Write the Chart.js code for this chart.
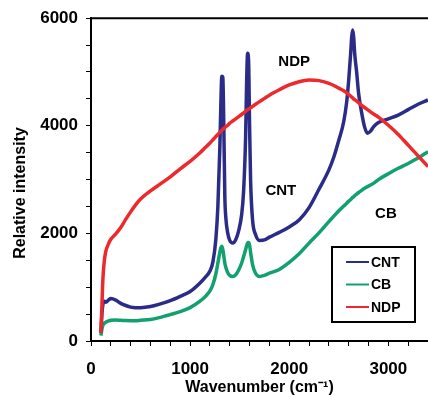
<!DOCTYPE html>
<html>
<head>
<meta charset="utf-8">
<script src="https://cdn.jsdelivr.net/npm/chart.js@4/dist/chart.umd.min.js"></script>
<style>
  html, body { margin: 0; padding: 0; background: #fff; }
  #wrap { width: 428px; height: 397px; }
</style>
</head>
<body>
<div id="wrap"><canvas id="myChart"></canvas></div>
<script>
// wavenumber grid shared by the three spectra (cm-1)
const wavenumber = [100,110,120,135,150,175,200,250,300,350,400,450,500,600,700,800,900,1000,1100,1150,1200,1230,1260,1280,1300,1310,1320,1330,1340,1350,1360,1380,1400,1430,1460,1490,1520,1540,1560,1570,1580,1590,1600,1610,1630,1660,1700,1750,1800,1900,2000,2100,2200,2300,2400,2450,2500,2550,2580,2600,2620,2630,2640,2650,2660,2680,2700,2730,2760,2790,2820,2850,2900,3000,3100,3200,3300,3400];

const cnt = [150,500,680,740,720,760,790,760,700,660,630,620,620,640,690,750,830,920,1080,1180,1300,1470,1900,2500,3600,4400,4920,4900,4000,2700,2300,2000,1870,1820,1880,2050,2350,2800,3800,4800,5350,5200,4000,3000,2250,1980,1870,1880,1930,2020,2120,2250,2480,2820,3180,3420,3730,4080,4450,4850,5350,5650,5780,5650,5350,5000,4600,4250,3980,3860,3900,3980,4060,4130,4200,4300,4400,4480];

const cb = [100,220,290,330,350,370,385,390,385,380,378,378,385,400,440,490,545,620,740,820,930,1050,1250,1450,1650,1730,1760,1700,1580,1450,1370,1270,1220,1200,1230,1320,1450,1570,1700,1770,1820,1830,1780,1650,1420,1260,1200,1220,1260,1330,1460,1620,1820,2010,2220,2320,2420,2510,2560,2600,2630,2650,2670,2680,2700,2730,2760,2800,2840,2870,2900,2930,3000,3110,3210,3300,3400,3520];

const ndp = [150,650,1150,1500,1670,1800,1890,1990,2110,2260,2400,2530,2640,2790,2920,3050,3200,3340,3500,3590,3680,3740,3800,3840,3880,3900,3915,3935,3950,3965,3985,4010,4050,4090,4130,4170,4210,4240,4270,4285,4300,4310,4320,4335,4360,4400,4450,4510,4570,4670,4760,4820,4850,4840,4790,4750,4700,4650,4610,4580,4550,4535,4520,4500,4485,4460,4430,4380,4340,4300,4260,4220,4160,4010,3840,3640,3440,3240];

const seriesNames = ['CNT', 'CB', 'NDP'];
const seriesColors = ['#2b2c88', '#12a06e', '#ec2a2e'];

// curve labels written next to the lines
const noteText = ['NDP', 'CNT', 'CB'];
const noteX = [2050, 1915, 2975];
const noteY = [5180, 2790, 2360];

const toPoints = ys => ys.map((y, i) => ({x: wavenumber[i], y: y}));

Chart.defaults.font.family = '"Liberation Sans", Arial, sans-serif';
Chart.defaults.color = '#000';

const frameAndNotes = {
  id: 'frameAndNotes',
  afterDraw(chart) {
    const {ctx, chartArea, scales} = chart;
    ctx.save();
    // top edge of the frame
    ctx.strokeStyle = '#000';
    ctx.lineWidth = 2;
    ctx.beginPath();
    ctx.moveTo(chartArea.left - 1, chartArea.top);
    ctx.lineTo(chartArea.right, chartArea.top);
    ctx.stroke();

    // y axis title, sits a little below the middle of the plot
    ctx.save();
    ctx.translate(21, 193);
    ctx.rotate(-Math.PI / 2);
    ctx.font = 'bold 16px "Liberation Sans", Arial, sans-serif';
    ctx.fillStyle = '#000';
    ctx.textAlign = 'center';
    ctx.textBaseline = 'middle';
    ctx.fillText('Relative intensity', 0, 0);
    ctx.restore();

    // curve labels
    ctx.font = 'bold 15px "Liberation Sans", Arial, sans-serif';
    ctx.fillStyle = '#000';
    ctx.textAlign = 'center';
    ctx.textBaseline = 'middle';
    noteText.forEach((t, i) => {
      ctx.fillText(t, scales.x.getPixelForValue(noteX[i]), scales.y.getPixelForValue(noteY[i]));
    });

    // legend box
    const bx = 332, by = 247, bw = 83, bh = 75;
    ctx.fillStyle = '#fff';
    ctx.fillRect(bx, by, bw, bh);
    ctx.lineWidth = 2;
    ctx.strokeRect(bx, by, bw, bh);
    ctx.font = 'bold 14px "Liberation Sans", Arial, sans-serif';
    ctx.textAlign = 'left';
    seriesNames.forEach((n, i) => {
      const y = by + 15 + i * 22.5;
      ctx.strokeStyle = seriesColors[i];
      ctx.lineWidth = 2;
      ctx.beginPath();
      ctx.moveTo(346, y);
      ctx.lineTo(369, y);
      ctx.stroke();
      ctx.fillStyle = '#000';
      ctx.fillText(n, 371, y + 1);
    });
    ctx.restore();
  }
};

const data = {
  datasets: seriesNames.map((name, i) => ({
    label: name,
    data: toPoints([cnt, cb, ndp][i]),
    borderColor: seriesColors[i],
    backgroundColor: seriesColors[i],
    borderWidth: 3.5,
    pointRadius: 0,
    cubicInterpolationMode: 'monotone',
    order: [1, 2, 0][i]
  }))
};

const config = {
  type: 'line',
  data,
  options: {
    responsive: true,
    maintainAspectRatio: false,
    animation: false,
    layout: { padding: { top: 18, right: 0, left: 0, bottom: 0 } },
    plugins: {
      legend: { display: false },
      tooltip: { enabled: false }
    },
    scales: {
      x: {
        type: 'linear',
        min: 0,
        max: 3400,
        afterFit(scale) {
          scale.height = 56;
          scale.paddingRight = 0;
          scale.paddingLeft = 0;
        },
        ticks: {
          stepSize: 200,
          autoSkip: false,
          maxRotation: 0,
          padding: 13,
          font: { size: 17, weight: 'bold' },
          callback: v => (v % 1000 === 0 ? v : '')
        },
        grid: { drawOnChartArea: false, drawTicks: true, tickLength: 5, color: '#000', lineWidth: 1 },
        border: { color: '#000', width: 2 },
        title: {
          display: true,
          text: 'Wavenumber (cm\u207B\u00B9)',
          font: { size: 16, weight: 'bold' },
          padding: { top: 0, bottom: 0 }
        }
      },
      y: {
        min: 0,
        max: 6000,
        afterFit(scale) { scale.width = 91; },
        ticks: {
          stepSize: 500,
          autoSkip: false,
          padding: 8,
          font: { size: 17, weight: 'bold' },
          callback: v => (v % 2000 === 0 ? v : '')
        },
        grid: { drawOnChartArea: false, drawTicks: true, tickLength: 5, color: '#000', lineWidth: 1 },
        border: { color: '#000', width: 2 }
      }
    }
  },
  plugins: [frameAndNotes]
};

const myChart = new Chart(document.getElementById('myChart'), config);
</script>
</body>
</html>
